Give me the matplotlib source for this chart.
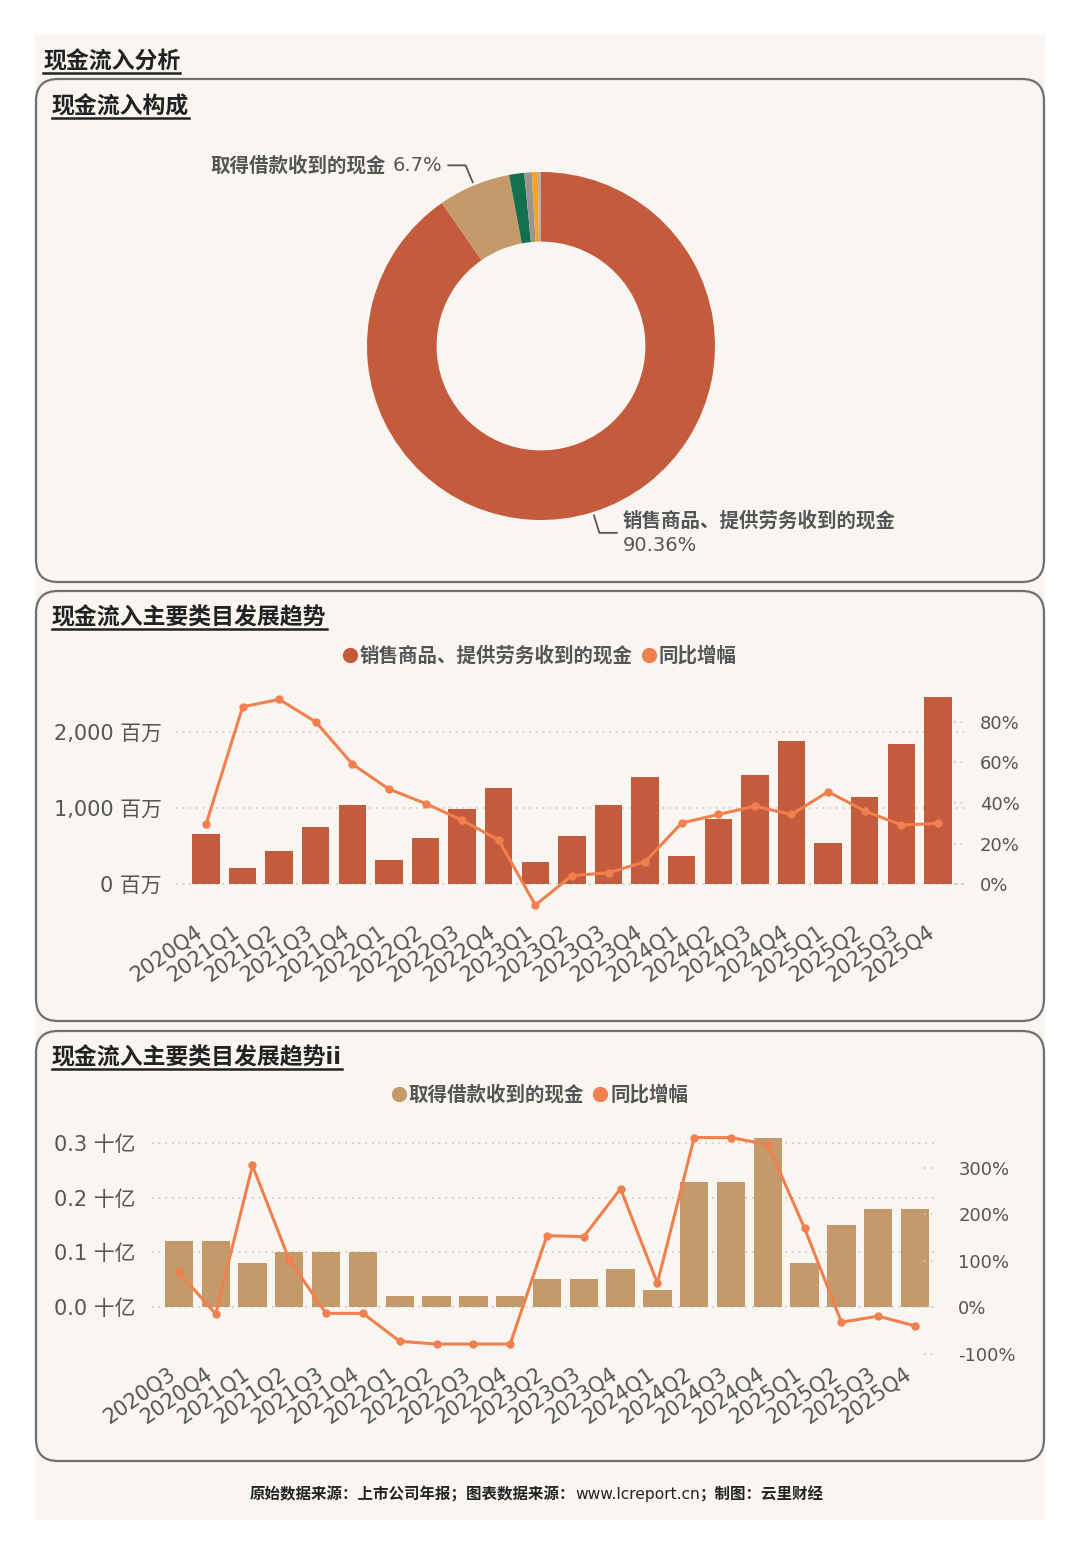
import numpy as np
import matplotlib
matplotlib.use('Agg')
import matplotlib.pyplot as plt
from matplotlib.patches import FancyBboxPatch, Rectangle
from matplotlib.lines import Line2D
from matplotlib.ticker import FuncFormatter
from matplotlib.transforms import ScaledTranslation

plt.rcParams['font.family'] = ['DejaVu Sans', 'Noto Sans CJK SC']

W, H = 1080, 1555

# ---- data ----
pie_labels = ['销售商品、提供劳务收到的现金', '取得借款收到的现金', '收到的税费返还',
              '收到其他与经营活动有关的现金', '处置资产收回的现金', '其他']
pie_values = [90.36, 6.7, 1.4, 0.7, 0.54, 0.3]

q2 = ['2020Q4', '2021Q1', '2021Q2', '2021Q3', '2021Q4', '2022Q1', '2022Q2',
      '2022Q3', '2022Q4', '2023Q1', '2023Q2', '2023Q3', '2023Q4', '2024Q1',
      '2024Q2', '2024Q3', '2024Q4', '2025Q1', '2025Q2', '2025Q3', '2025Q4']
sales = [658, 219, 439, 754, 1039, 320, 614, 991, 1268, 294, 632,
         1044, 1404, 377, 851, 1430, 1886, 539, 1149, 1846, 2452]   # 百万
sales_yoy = [29.5, 87.4, 91.1, 80.0, 59.2, 46.9, 39.8, 31.6, 21.8, -10.2, 4.3,
             5.7, 11.1, 30.2, 34.4, 38.5, 34.4, 45.6, 36.2, 29.2, 30.0]

q3 = ['2020Q3', '2020Q4', '2021Q1', '2021Q2', '2021Q3', '2021Q4', '2022Q1',
      '2022Q2', '2022Q3', '2022Q4', '2023Q2', '2023Q3', '2023Q4', '2024Q1',
      '2024Q2', '2024Q3', '2024Q4', '2025Q1', '2025Q2', '2025Q3', '2025Q4']
loans = [0.12, 0.12, 0.08, 0.10, 0.10, 0.10, 0.02, 0.02, 0.02, 0.02, 0.05,
         0.05, 0.07, 0.03, 0.23, 0.23, 0.31, 0.08, 0.15, 0.18, 0.18]   # 十亿
loans_yoy = [75, -14, 305, 102, -13, -13, -73, -79, -79, -79, 154,
             152, 255, 52, 365, 365, 350, 170, -32, -19, -40]

# ---- style ----
CARD = '#F9F6F2'
RED = '#C45B3C'
TAN = '#C49A6A'
LINE = '#F0804E'
GRID = '#CCC7C0'
TXT = '#555555'
pie_colors = [RED, TAN, '#12704F', '#9B958F', '#F2A32A', '#B8B0A8']


def rect(x0, y0, x1, y1):
    return [x0 / W, 1 - y1 / H, (x1 - x0) / W, (y1 - y0) / H]


fig = plt.figure(figsize=(W / 100, H / 100), dpi=100)

# background canvas in pixel coords
bg = fig.add_axes([0, 0, 1, 1], zorder=0)
bg.set_xlim(0, W)
bg.set_ylim(H, 0)
bg.axis('off')
bg.add_patch(Rectangle((35, 35), 1010, 1485, facecolor=CARD, edgecolor='none'))
for y0, y1 in [(79, 582), (591, 1021), (1031, 1461)]:
    bg.add_patch(FancyBboxPatch((36, y0), 1008, y1 - y0,
                                boxstyle='round,pad=0,rounding_size=22',
                                facecolor=CARD, edgecolor='#707070', lw=1.6))

titles = []
titles.append(bg.text(43, 62, '现金流入分析', fontsize=16.5, weight='bold',
                      color='#222222', va='center', ha='left'))
for y, s in [(107, '现金流入构成'), (618, '现金流入主要类目发展趋势'),
             (1058, '现金流入主要类目发展趋势ii')]:
    titles.append(bg.text(52, y, s, fontsize=16.5, weight='bold',
                          color='#222222', va='center', ha='left'))

# footer: bold source text with the url in regular weight
f1 = bg.text(250, 1494, '原始数据来源：上市公司年报；图表数据来源：', fontsize=11.15,
             weight='bold', color='#222222', ha='left', va='center')
f2 = bg.annotate('www.lcreport.cn', xy=(1, 0.5), xycoords=f1, fontsize=11.15,
                 color='#222222', ha='left', va='center')
bg.annotate('；制图：云里财经', xy=(1, 0.5), xycoords=f2, fontsize=11.15,
            weight='bold', color='#222222', ha='left', va='center')

# ---- donut ----
axp = fig.add_axes(rect(367, 172, 715, 520), zorder=1)
wedges, _ = axp.pie(pie_values, colors=pie_colors, startangle=90, counterclock=False,
                    radius=1, wedgeprops=dict(width=0.4, edgecolor='none'))
axp.set_xlim(-1, 1)
axp.set_ylim(-1, 1)
axp.axis('off')


def leader(w, side):
    a = np.deg2rad((w.theta1 + w.theta2) / 2)
    p0 = (1.02 * np.cos(a), 1.02 * np.sin(a))
    p1 = (1.125 * np.cos(a), 1.125 * np.sin(a))
    p2 = (p1[0] + side * 0.1, p1[1])
    axp.plot([p0[0], p1[0], p2[0]], [p0[1], p1[1], p2[1]], color='#555555',
             lw=1.3, clip_on=False)
    return p2


p = leader(wedges[0], 1)
axp.text(p[0] + 0.035, p[1] + 0.07, pie_labels[0], fontsize=14, weight='bold',
         color=TXT, ha='left', va='center')
axp.text(p[0] + 0.035, p[1] - 0.07, f'{pie_values[0]}%', fontsize=14,
         color=TXT, ha='left', va='center')

p = leader(wedges[1], -1)
pct = axp.text(p[0] - 0.035, p[1], f'{pie_values[1]}%', fontsize=14,
               color=TXT, ha='right', va='center')
axp.annotate(pie_labels[1], xy=(0, 0.5), xycoords=pct, xytext=(-5, 0),
             textcoords='offset points', fontsize=14, weight='bold', color=TXT,
             ha='right', va='center')


def style_axes(ax, axr, xlabels, lpad, rpad, xpad):
    for a in (ax, axr):
        for s in a.spines.values():
            s.set_visible(False)
        a.patch.set_visible(False)
    ax.yaxis.grid(True, ls=(0, (1, 3)), color=GRID, lw=1.2)
    ax.set_axisbelow(True)
    ax.set_xticks(np.arange(len(xlabels)))
    ax.set_xticklabels(xlabels, rotation=35, ha='right', rotation_mode='anchor')
    ax.tick_params(axis='x', length=0, pad=xpad, labelsize=15, labelcolor=TXT)
    shift = ScaledTranslation(-0.11, 0, fig.dpi_scale_trans)
    for lab in ax.get_xticklabels():
        lab.set_transform(lab.get_transform() + shift)
    ax.tick_params(axis='y', length=0, pad=lpad, labelsize=15, labelcolor=TXT)
    axr.tick_params(axis='y', length=0, pad=rpad, labelsize=13, labelcolor=TXT)
    for t in axr.get_yticks():
        axr.plot([0.985, 1.0], [t, t], transform=axr.get_yaxis_transform(),
                 ls=(0, (1, 3)), color=GRID, lw=1.2, clip_on=False)


# ---- chart 2 ----
ax2 = fig.add_axes(rect(176, 690, 966, 915), zorder=1)
x2 = np.arange(len(q2))
ax2.bar(x2, sales, width=0.75, color=RED, zorder=2)
ax2.set_xlim(-0.82, 20.77)
ax2.set_ylim(-403, 2550)
ax2.set_yticks([0, 1000, 2000])
ax2.yaxis.set_major_formatter(FuncFormatter(lambda v, _: f'{v:,.0f} 百万'))
ax2r = ax2.twinx()
ax2r.plot(x2, sales_yoy, color=LINE, lw=2.2, marker='o', ms=5, clip_on=False)
ax2r.set_ylim(-15.1, 95.7)
ax2r.set_yticks([0, 20, 40, 60, 80])
ax2r.yaxis.set_major_formatter(FuncFormatter(lambda v, _: f'{v:.0f}%'))
style_axes(ax2, ax2r, q2, 10, 10, 4.5)

h2 = [Line2D([], [], ls='none', marker='o', ms=10, color=RED),
      Line2D([], [], ls='none', marker='o', ms=10, color=LINE)]
fig.legend(h2, ['销售商品、提供劳务收到的现金', '同比增幅'], loc='center',
           bbox_to_anchor=(540 / W, 1 - 656 / H), ncol=2, frameon=False,
           handlelength=0.7, handletextpad=0.15, columnspacing=0.5,
           prop=dict(size=14, weight='bold'), labelcolor=TXT)

# ---- chart 3 ----
ax3 = fig.add_axes(rect(152, 1130, 936, 1362), zorder=1)
x3 = np.arange(len(q3))
ax3.bar(x3, loans, width=0.77, color=TAN, zorder=2)
ax3.set_xlim(-0.73, 20.57)
ax3.set_ylim(-0.1017, 0.3248)
ax3.set_yticks([0, 0.1, 0.2, 0.3])
ax3.yaxis.set_major_formatter(FuncFormatter(lambda v, _: f'{v:.1f} 十亿'))
ax3r = ax3.twinx()
ax3r.plot(x3, loans_yoy, color=LINE, lw=2.2, marker='o', ms=5, clip_on=False)
ax3r.set_ylim(-117.6, 381.3)
ax3r.set_yticks([-100, 0, 100, 200, 300])
ax3r.yaxis.set_major_formatter(FuncFormatter(lambda v, _: f'{v:.0f}%'))
style_axes(ax3, ax3r, q3, 12, 16, 1)

h3 = [Line2D([], [], ls='none', marker='o', ms=10, color=TAN),
      Line2D([], [], ls='none', marker='o', ms=10, color=LINE)]
fig.legend(h3, ['取得借款收到的现金', '同比增幅'], loc='center',
           bbox_to_anchor=(540 / W, 1 - 1095 / H), ncol=2, frameon=False,
           handlelength=0.7, handletextpad=0.15, columnspacing=0.5,
           prop=dict(size=14, weight='bold'), labelcolor=TXT)

# underline the titles
fig.canvas.draw()
inv = bg.transData.inverted()
for t in titles:
    bb = t.get_window_extent()
    (xa, ya), (xb, _) = inv.transform([(bb.x0, bb.y0), (bb.x1, bb.y0)])
    bg.plot([xa, xb], [ya - 1, ya - 1], color='#222222', lw=1.8)

fig.savefig('out.png', dpi=100)
